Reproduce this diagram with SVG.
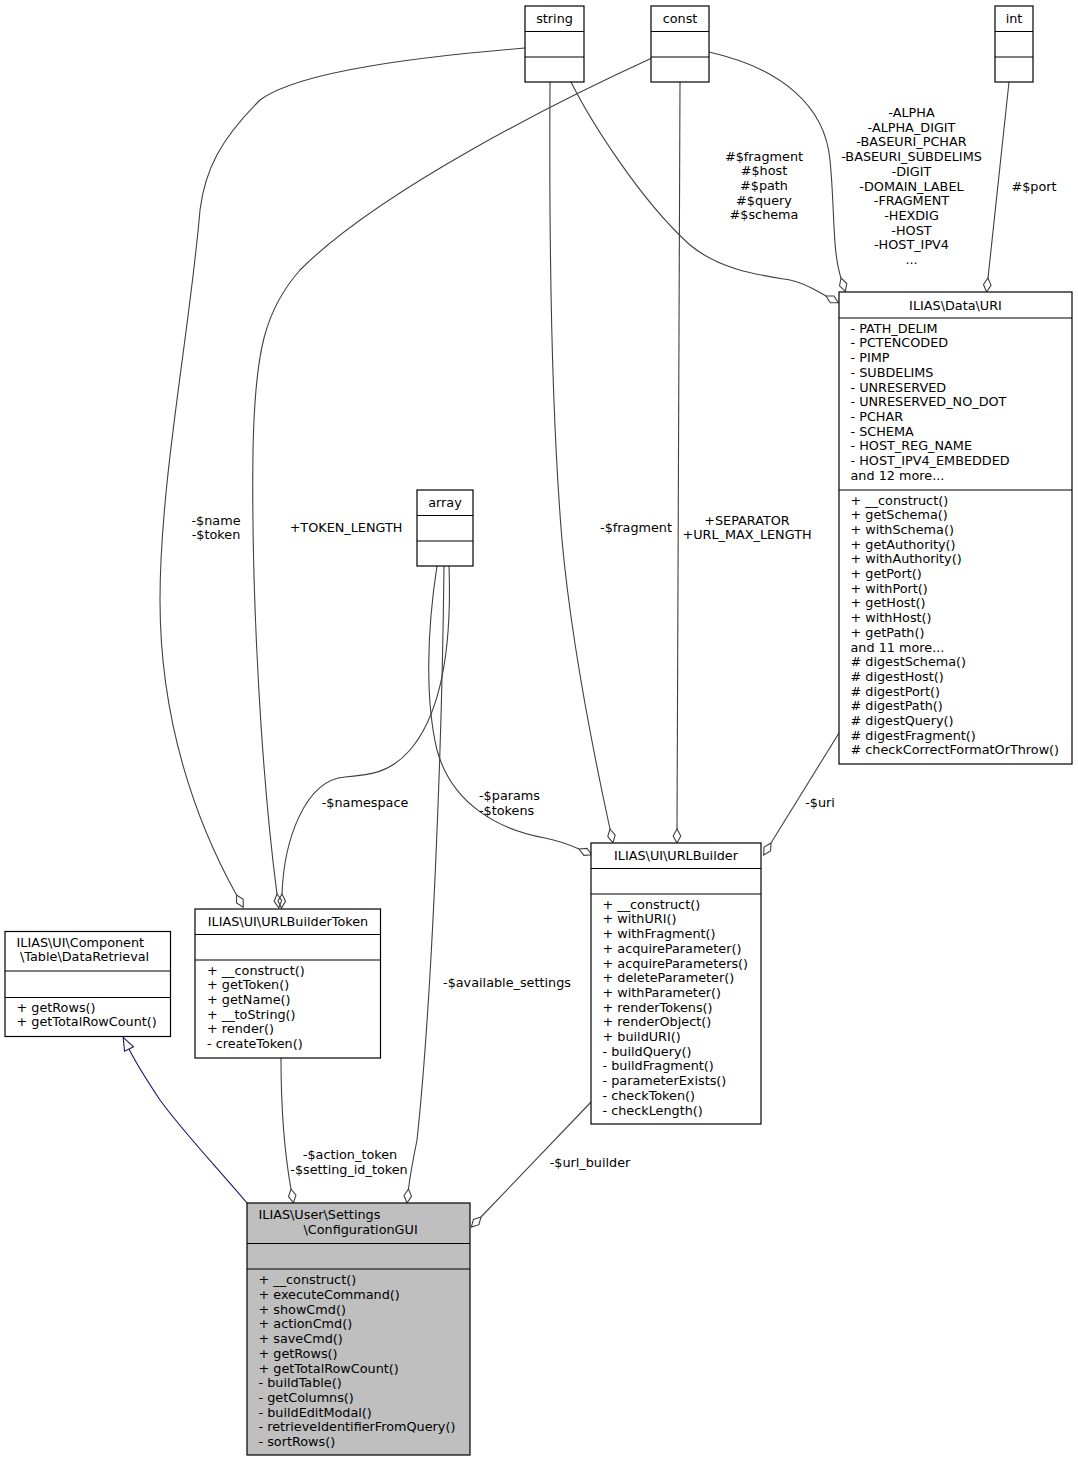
<svg xmlns="http://www.w3.org/2000/svg" width="1078" height="1461" viewBox="0 0 1078 1461">
<style>
text{font-family:"DejaVu Sans","Liberation Sans",sans-serif;font-size:12.8px;fill:#000}
.c{text-anchor:middle}
.box{fill:#fff;stroke:#000;stroke-width:1.2}
.cur{fill:#bfbfbf;stroke:#000;stroke-width:1.2}
.div{stroke:#000;stroke-width:1.2}
.e{fill:none;stroke:#404040;stroke-width:1.1}
.g{fill:none;stroke:#191970;stroke-width:1.1}
</style>
<defs>
<marker id="dia" markerUnits="userSpaceOnUse" markerWidth="16" markerHeight="10" refX="0" refY="0" orient="auto" viewBox="-1 -5 16 10" overflow="visible">
<path d="M0,0 L7,-3.8 L14,0 L7,3.8 Z" fill="none" stroke="#404040" stroke-width="1.1"/>
</marker>
<marker id="tri" markerUnits="userSpaceOnUse" markerWidth="14" markerHeight="12" refX="0" refY="0" orient="auto" viewBox="-1 -6 14 12" overflow="visible">
<path d="M0,-5 L13,0 L0,5 Z" fill="none" stroke="#191970" stroke-width="1.1"/>
</marker>
</defs>
<rect width="1078" height="1461" fill="#fff"/>

<g id="connectors">
<path class="e" d="M525,48 C430,56 300,70 260,100 C220,140 205,170 200,210 C190,330 160,480 160,600 C160,720 195,820 236.5,895" marker-end="url(#dia)"/>
<path class="e" d="M652,58 C560,100 380,190 300,270 C265,310 255,350 253,450 C251,600 262,780 277,894" marker-end="url(#dia)"/>
<path class="e" d="M449,566 C452,650 440,715 410,750 C390,773 370,775 345,777 C305,780 284,840 282,894" marker-end="url(#dia)"/>
<path class="e" d="M437,566 C427,630 425,700 437,750 C452,805 500,830 545,838 C560,841 570,845 579,849" marker-end="url(#dia)"/>
<path class="e" d="M550,82 C549,250 552,420 562,540 C572,650 595,760 610,829" marker-end="url(#dia)"/>
<path class="e" d="M680,82 L677,829" marker-end="url(#dia)"/>
<path class="e" d="M839,733 L771,843" marker-end="url(#dia)"/>
<path class="e" d="M571,82 C590,120 640,200 690,245 C720,270 760,275 790,280 C805,283 815,290 826,296" marker-end="url(#dia)"/>
<path class="e" d="M709,52 C780,68 825,105 830,160 C835,210 832,250 841,278" marker-end="url(#dia)"/>
<path class="e" d="M1009,82 L988,278" marker-end="url(#dia)"/>
<path class="e" d="M281,1058 C281,1110 284,1150 291,1189" marker-end="url(#dia)"/>
<path class="e" d="M444,566 C442,750 432,1000 417,1140 C413,1160 410,1175 408.5,1189" marker-end="url(#dia)"/>
<path class="e" d="M592,1101 L481,1217" marker-end="url(#dia)"/>
<path class="g" d="M247,1203 C212,1162 180,1128 160,1100 C148,1082 137,1065 129,1049" marker-end="url(#tri)"/>

<text class="c" x="216" y="524.5">-$name</text>
<text class="c" x="216" y="539">-$token</text>
<text class="c" x="346" y="531.5">+TOKEN_LENGTH</text>
<text class="c" x="365" y="806.5">-$namespace</text>
<text x="479" y="800">-$params</text>
<text x="479" y="815">-$tokens</text>
<text class="c" x="636" y="531.5">-$fragment</text>
<text class="c" x="747" y="524.5">+SEPARATOR</text>
<text class="c" x="747" y="539">+URL_MAX_LENGTH</text>
<text class="c" x="507" y="986.5">-$available_settings</text>
<text class="c" x="350" y="1159">-$action_token</text>
<text class="c" x="349" y="1173.5">-$setting_id_token</text>
<text class="c" x="590" y="1166.5">-$url_builder</text>
<text class="c" x="820" y="806.5">-$uri</text>
<text class="c" x="1034" y="190.5">#$port</text>
<text class="c" x="764" y="160.5">#$fragment</text>
<text class="c" x="764" y="175.2">#$host</text>
<text class="c" x="764" y="189.9">#$path</text>
<text class="c" x="764" y="204.6">#$query</text>
<text class="c" x="764" y="219.3">#$schema</text>
<text class="c" x="911.5" y="117">-ALPHA</text>
<text class="c" x="911.5" y="131.7">-ALPHA_DIGIT</text>
<text class="c" x="911.5" y="146.4">-BASEURI_PCHAR</text>
<text class="c" x="911.5" y="161.1">-BASEURI_SUBDELIMS</text>
<text class="c" x="911.5" y="175.8">-DIGIT</text>
<text class="c" x="911.5" y="190.5">-DOMAIN_LABEL</text>
<text class="c" x="911.5" y="205.2">-FRAGMENT</text>
<text class="c" x="911.5" y="219.9">-HEXDIG</text>
<text class="c" x="911.5" y="234.6">-HOST</text>
<text class="c" x="911.5" y="249.3">-HOST_IPV4</text>
<text class="c" x="911.5" y="264">...</text>
</g>

<g id="node-string">
<rect class="box" x="525" y="6" width="59" height="76"/>
<line class="div" x1="525" y1="31.5" x2="584" y2="31.5"/>
<line class="div" x1="525" y1="57" x2="584" y2="57"/>
<text class="c" x="554.5" y="22.5">string</text>
</g>

<g id="node-const">
<rect class="box" x="651" y="6" width="58" height="76"/>
<line class="div" x1="651" y1="31.5" x2="709" y2="31.5"/>
<line class="div" x1="651" y1="57" x2="709" y2="57"/>
<text class="c" x="680" y="22.5">const</text>
</g>

<g id="node-int">
<rect class="box" x="995" y="6" width="38" height="76"/>
<line class="div" x1="995" y1="31.5" x2="1033" y2="31.5"/>
<line class="div" x1="995" y1="57" x2="1033" y2="57"/>
<text class="c" x="1014" y="22.5">int</text>
</g>

<g id="node-array">
<rect class="box" x="417" y="490" width="56" height="76"/>
<line class="div" x1="417" y1="515.5" x2="473" y2="515.5"/>
<line class="div" x1="417" y1="541" x2="473" y2="541"/>
<text class="c" x="445" y="506.5">array</text>
</g>

<g id="node-uri">
<rect class="box" x="839" y="292" width="233" height="472"/>
<line class="div" x1="839" y1="318" x2="1072" y2="318"/>
<line class="div" x1="839" y1="490" x2="1072" y2="490"/>
<text class="c" x="955.5" y="310">ILIAS\Data\URI</text>
<text x="850.5" y="332.7">- PATH_DELIM</text>
<text x="850.5" y="347.4">- PCTENCODED</text>
<text x="850.5" y="362.1">- PIMP</text>
<text x="850.5" y="376.8">- SUBDELIMS</text>
<text x="850.5" y="391.5">- UNRESERVED</text>
<text x="850.5" y="406.2">- UNRESERVED_NO_DOT</text>
<text x="850.5" y="420.9">- PCHAR</text>
<text x="850.5" y="435.6">- SCHEMA</text>
<text x="850.5" y="450.3">- HOST_REG_NAME</text>
<text x="850.5" y="465">- HOST_IPV4_EMBEDDED</text>
<text x="850.5" y="479.7">and 12 more...</text>
<text x="850.5" y="504.5">+ __construct()</text>
<text x="850.5" y="519.2">+ getSchema()</text>
<text x="850.5" y="533.9">+ withSchema()</text>
<text x="850.5" y="548.6">+ getAuthority()</text>
<text x="850.5" y="563.3">+ withAuthority()</text>
<text x="850.5" y="578">+ getPort()</text>
<text x="850.5" y="592.7">+ withPort()</text>
<text x="850.5" y="607.4">+ getHost()</text>
<text x="850.5" y="622.1">+ withHost()</text>
<text x="850.5" y="636.8">+ getPath()</text>
<text x="850.5" y="651.5">and 11 more...</text>
<text x="850.5" y="666.2"># digestSchema()</text>
<text x="850.5" y="680.9"># digestHost()</text>
<text x="850.5" y="695.6"># digestPort()</text>
<text x="850.5" y="710.3"># digestPath()</text>
<text x="850.5" y="725"># digestQuery()</text>
<text x="850.5" y="739.7"># digestFragment()</text>
<text x="850.5" y="754.4"># checkCorrectFormatOrThrow()</text>
</g>

<g id="node-urlbuilder">
<rect class="box" x="591" y="843" width="170" height="281"/>
<line class="div" x1="591" y1="868.5" x2="761" y2="868.5"/>
<line class="div" x1="591" y1="894" x2="761" y2="894"/>
<text class="c" x="676" y="860">ILIAS\UI\URLBuilder</text>
<text x="602.5" y="908.7">+ __construct()</text>
<text x="602.5" y="923.4">+ withURI()</text>
<text x="602.5" y="938.1">+ withFragment()</text>
<text x="602.5" y="952.8">+ acquireParameter()</text>
<text x="602.5" y="967.5">+ acquireParameters()</text>
<text x="602.5" y="982.2">+ deleteParameter()</text>
<text x="602.5" y="996.9">+ withParameter()</text>
<text x="602.5" y="1011.6">+ renderTokens()</text>
<text x="602.5" y="1026.3">+ renderObject()</text>
<text x="602.5" y="1041">+ buildURI()</text>
<text x="602.5" y="1055.7">- buildQuery()</text>
<text x="602.5" y="1070.4">- buildFragment()</text>
<text x="602.5" y="1085.1">- parameterExists()</text>
<text x="602.5" y="1099.8">- checkToken()</text>
<text x="602.5" y="1114.5">- checkLength()</text>
</g>

<g id="node-urlbuildertoken">
<rect class="box" x="195" y="909" width="185.5" height="149"/>
<line class="div" x1="195" y1="934.5" x2="380.5" y2="934.5"/>
<line class="div" x1="195" y1="960" x2="380.5" y2="960"/>
<text class="c" x="288" y="925.5">ILIAS\UI\URLBuilderToken</text>
<text x="207" y="974.5">+ __construct()</text>
<text x="207" y="989.2">+ getToken()</text>
<text x="207" y="1003.9">+ getName()</text>
<text x="207" y="1018.6">+ __toString()</text>
<text x="207" y="1033.3">+ render()</text>
<text x="207" y="1048">- createToken()</text>
</g>

<g id="node-dataretrieval">
<rect class="box" x="5" y="931.5" width="165.5" height="105"/>
<line class="div" x1="5" y1="971" x2="170.5" y2="971"/>
<line class="div" x1="5" y1="997.5" x2="170.5" y2="997.5"/>
<text x="16.5" y="946.7">ILIAS\UI\Component</text>
<text x="20" y="961.4">\Table\DataRetrieval</text>
<text x="16.5" y="1011.7">+ getRows()</text>
<text x="16.5" y="1026.4">+ getTotalRowCount()</text>
</g>

<g id="node-configurationgui">
<rect class="cur" x="247" y="1203" width="223" height="252"/>
<line class="div" x1="247" y1="1243.5" x2="470" y2="1243.5"/>
<line class="div" x1="247" y1="1269" x2="470" y2="1269"/>
<text x="258.5" y="1219.3">ILIAS\User\Settings</text>
<text x="303.5" y="1234">\ConfigurationGUI</text>
<text x="258.5" y="1284.3">+ __construct()</text>
<text x="258.5" y="1299">+ executeCommand()</text>
<text x="258.5" y="1313.7">+ showCmd()</text>
<text x="258.5" y="1328.4">+ actionCmd()</text>
<text x="258.5" y="1343.1">+ saveCmd()</text>
<text x="258.5" y="1357.8">+ getRows()</text>
<text x="258.5" y="1372.5">+ getTotalRowCount()</text>
<text x="258.5" y="1387.2">- buildTable()</text>
<text x="258.5" y="1401.9">- getColumns()</text>
<text x="258.5" y="1416.6">- buildEditModal()</text>
<text x="258.5" y="1431.3">- retrieveIdentifierFromQuery()</text>
<text x="258.5" y="1446">- sortRows()</text>
</g>
</svg>
